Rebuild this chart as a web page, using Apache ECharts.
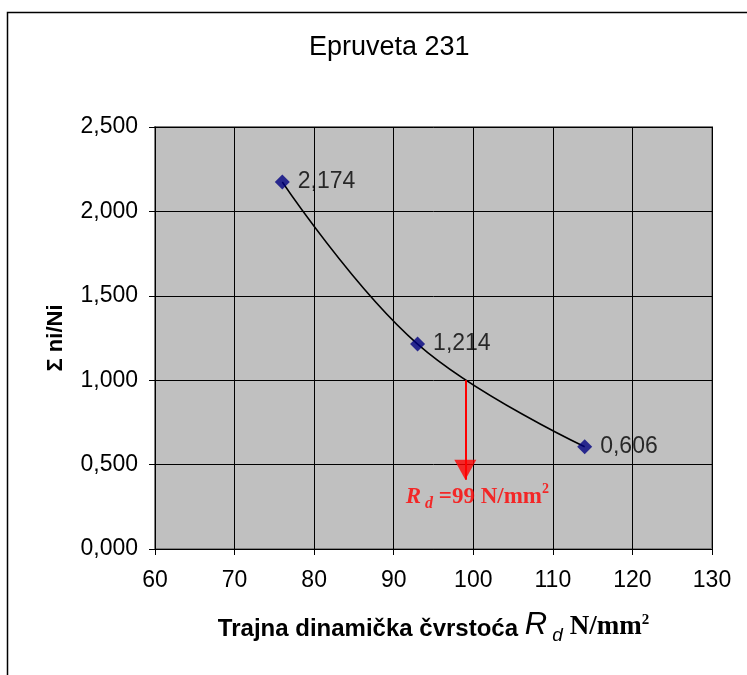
<!DOCTYPE html>
<html><head><meta charset="utf-8">
<script src="https://cdn.jsdelivr.net/npm/echarts@6/dist/echarts.min.js"></script>
<style>html,body{margin:0;padding:0;background:#fff}#c{width:747px;height:675px}</style>
</head><body><div id="c"></div>
<script>
const xValues = [76, 93, 114];
const yValues = [2.174, 1.214, 0.606];
const rdValue = 99;
const rdLevel = 1.0;
const arrowTip = 0.41;
const xTicks = [60, 70, 80, 90, 100, 110, 120, 130];
const yTicks = [0, 0.5, 1.0, 1.5, 2.0, 2.5];

const fmt = v => v.toFixed(3).replace('.', ',');
const pts = xValues.map((x, i) => [x, yValues[i]]);
const SANS = 'Liberation Sans, Arial';
const SERIF = 'Liberation Serif, Times New Roman';

const chart = echarts.init(document.getElementById('c'));
chart.setOption({
  animation: false,
  backgroundColor: '#fff',
  graphic: [{
    type: 'rect', left: 5, top: 10, z: -10,
    shape: { width: 800, height: 720 },
    style: { fill: 'none', stroke: '#000', lineWidth: 1.5 }
  }],
  title: {
    text: 'Epruveta 231', left: 304, top: 29,
    textStyle: { fontFamily: SANS, fontWeight: 'normal', fontSize: 27, color: '#000' }
  },
  grid: {
    left: 155, top: 127, width: 557, height: 422,
    show: true, backgroundColor: '#c0c0c0', borderColor: '#808080', borderWidth: 2
  },
  xAxis: {
    type: 'value', min: xTicks[0], max: xTicks[xTicks.length - 1], interval: 10,
    axisLine: { show: true, lineStyle: { color: '#000', width: 1 } },
    axisTick: { show: true, inside: false, length: 6, lineStyle: { color: '#000' } },
    splitLine: { show: true, lineStyle: { color: '#000', width: 1 } },
    axisLabel: { color: '#000', fontFamily: SANS, fontSize: 23, margin: 20 },
    nameLocation: 'middle', nameGap: 60,
    name: '{a|Trajna dinamička čvrstoća }{r|R}{d| d}{n| N/mm}{s|2}',
    nameTextStyle: {
      rich: {
        a: { fontFamily: SANS, fontWeight: 'bold', fontSize: 24, color: '#000', verticalAlign: 'bottom', lineHeight: 36, padding: [0, 0, 4, 0] },
        r: { fontFamily: SANS, fontStyle: 'italic', fontSize: 31, color: '#000', verticalAlign: 'bottom', lineHeight: 36, padding: [0, 0, 4, 0] },
        d: { fontFamily: SANS, fontStyle: 'italic', fontSize: 19, color: '#000', verticalAlign: 'bottom', lineHeight: 36 },
        n: { fontFamily: SERIF, fontWeight: 'bold', fontSize: 27, color: '#000', verticalAlign: 'bottom', lineHeight: 36, padding: [0, 0, 4, 0] },
        s: { fontFamily: SERIF, fontWeight: 'bold', fontSize: 15, color: '#000', verticalAlign: 'bottom', lineHeight: 36, padding: [0, 0, 17, 0] }
      }
    }
  },
  yAxis: {
    type: 'value', min: yTicks[0], max: yTicks[yTicks.length - 1], interval: 0.5,
    axisLine: { show: true, lineStyle: { color: '#000', width: 1 } },
    axisTick: { show: true, inside: false, length: 6, lineStyle: { color: '#000' } },
    splitLine: { show: true, lineStyle: { color: '#000', width: 1 } },
    axisLabel: { color: '#000', fontFamily: SANS, fontSize: 23, margin: 17, formatter: fmt },
    name: 'Σ ni/Ni', nameLocation: 'middle', nameGap: 88, nameRotate: 90,
    nameTextStyle: { fontFamily: SANS, fontWeight: 'bold', fontSize: 22, color: '#000' }
  },
  series: [{
    type: 'line', data: pts, smooth: 0.4, showSymbol: false, symbol: 'none',
    lineStyle: { color: '#000', width: 1.5 }, z: 2,
    markLine: {
      silent: true, symbol: 'none',
      lineStyle: { color: '#ff0000', width: 2, type: 'solid' },
      label: { show: false },
      data: [[{ coord: [rdValue, rdLevel] }, { coord: [rdValue, arrowTip] }]]
    }
  }, {
    type: 'scatter', data: [[rdValue, arrowTip]], symbol: 'triangle', symbolRotate: 180,
    symbolSize: [22, 20], symbolOffset: [0, -10], z: 4,
    itemStyle: { color: '#ff0000' },
    label: {
      show: true, position: 'bottom', distance: 2, offset: [12, 0],
      formatter: () => '{r|R}{d| d}{n| =' + rdValue + ' N/mm}{s|2}',
      rich: {
        r: { fontFamily: SERIF, fontStyle: 'italic', fontWeight: 'bold', fontSize: 23, color: '#ff0000', verticalAlign: 'bottom', lineHeight: 30, padding: [0, 0, 3, 0] },
        d: { fontFamily: SERIF, fontStyle: 'italic', fontWeight: 'bold', fontSize: 16, color: '#ff0000', verticalAlign: 'bottom', lineHeight: 30 },
        n: { fontFamily: SERIF, fontWeight: 'bold', fontSize: 23, color: '#ff0000', verticalAlign: 'bottom', lineHeight: 30, padding: [0, 0, 3, 0] },
        s: { fontFamily: SERIF, fontWeight: 'bold', fontSize: 14, color: '#ff0000', verticalAlign: 'bottom', lineHeight: 30, padding: [0, 0, 15, 0] }
      }
    }
  }, {
    type: 'scatter', data: pts, symbol: 'diamond', symbolSize: 15,
    itemStyle: { color: '#000080' }, z: 3,
    label: {
      show: true, position: 'right', distance: 8, color: '#000',
      fontFamily: SANS, fontSize: 23,
      formatter: p => fmt(p.value[1])
    }
  }]
});
</script></body></html>
